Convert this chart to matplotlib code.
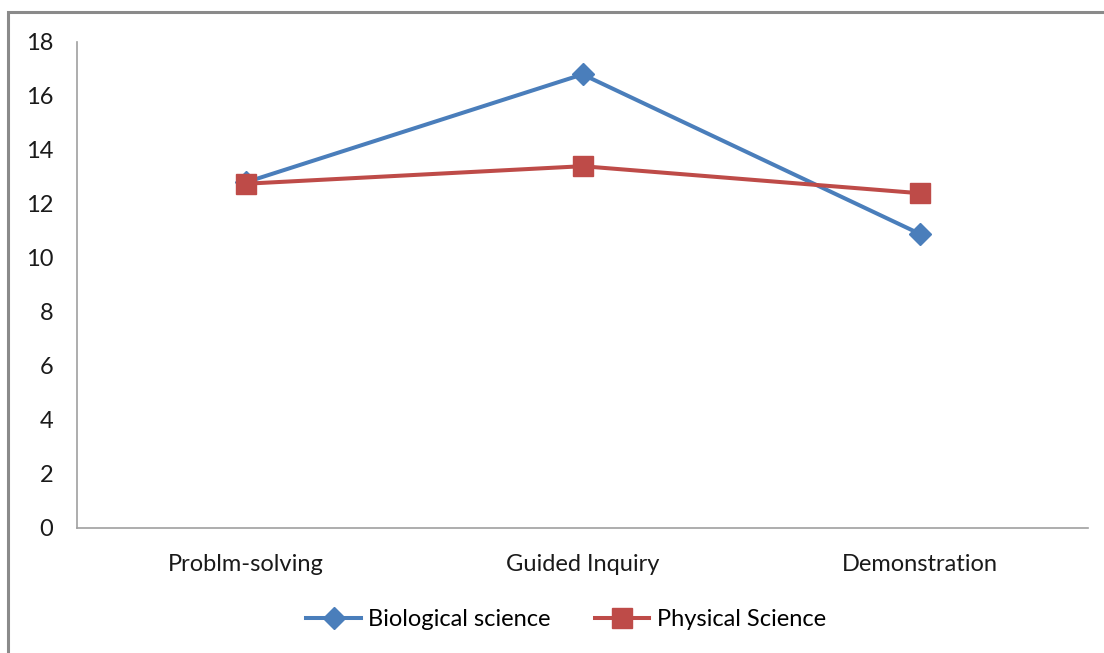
import matplotlib.pyplot as plt
from matplotlib.patches import Rectangle

categories = ["Problm-solving", "Guided Inquiry", "Demonstration"]
biological = [12.8, 16.8, 10.9]
physical = [12.75, 13.4, 12.4]
y_ticks = [0, 2, 4, 6, 8, 10, 12, 14, 16, 18]

plt.rcParams['font.family'] = ['Lato', 'DejaVu Sans']

fig = plt.figure(figsize=(11.04, 6.53), dpi=100)

# outer chart frame (runs off the right and bottom edges)
fig.patches.append(Rectangle((8 / 1104, -0.05), 1.2, (653 - 12) / 653 + 0.05,
                             transform=fig.transFigure, fill=False,
                             edgecolor='#8a8a8a', linewidth=2.2))

ax = fig.add_axes([77 / 1104, (653 - 528) / 653, (1088 - 77) / 1104, (528 - 42) / 653])

x = [i + 0.5 for i in range(len(categories))]
ax.plot(x, biological, color='#4a7ebb', lw=2.9, marker='D', ms=11,
        mec='#4a7ebb', mfc='#4a7ebb', label='Biological science')
ax.plot(x, physical, color='#be4b48', lw=2.9, marker='s', ms=14,
        mec='#be4b48', mfc='#be4b48', label='Physical Science')

ax.set_xlim(0, 3)
ax.set_ylim(0, 18)
ax.set_xticks(x)
ax.set_xticklabels(categories)
ax.set_yticks(y_ticks)

for side in ['top', 'right']:
    ax.spines[side].set_visible(False)
for side in ['left', 'bottom']:
    ax.spines[side].set_color('#a0a0a0')
    ax.spines[side].set_linewidth(1.2)

ax.tick_params(axis='both', length=0, labelsize=17, colors='#1a1a1a')
ax.tick_params(axis='x', pad=19)
ax.tick_params(axis='y', pad=17)

leg = ax.legend(loc='center', bbox_to_anchor=(566 / 1104, (653 - 620) / 653),
                bbox_transform=fig.transFigure, ncol=2, frameon=False,
                fontsize=17, handlelength=2.3, columnspacing=1.9,
                handletextpad=0.3)

fig.savefig('out.png', dpi=100, facecolor='white')
